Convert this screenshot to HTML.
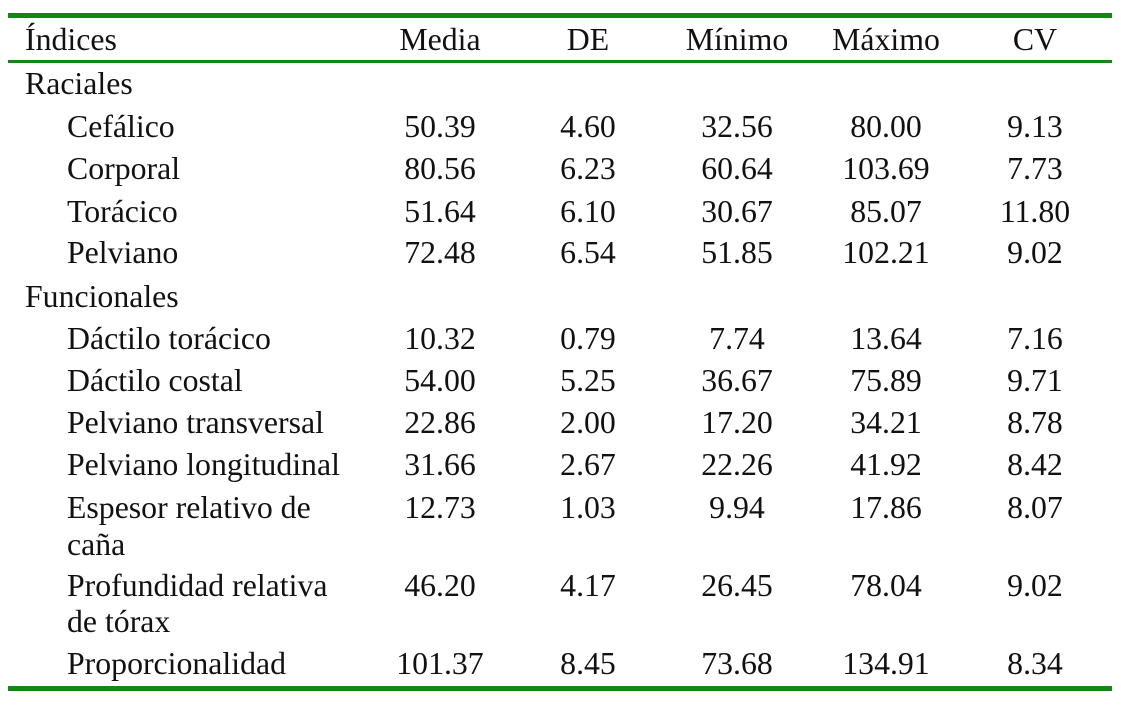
<!DOCTYPE html>
<html><head><meta charset="utf-8"><style>
body{margin:0;width:1121px;height:705px;background:#fff;position:relative;overflow:hidden;font-family:"Liberation Serif",serif;font-size:31.8px;color:#111}
.t{position:absolute;height:40px;line-height:40px;white-space:nowrap}
.c{width:180px;text-align:center}
.ln{position:absolute;left:8px;width:1104px;background:#138613}
</style></head><body>
<div class="ln" style="top:13px;height:5px"></div>
<div class="ln" style="top:60px;height:3px"></div>
<div class="ln" style="top:686px;height:5px"></div>
<div id="tbl"></div>
<script>
const cols=[440,588,737,886,1035];
const header=["Media","DE","Mínimo","Máximo","CV"];
const rows=[
["Índices",25,40,null],
["Raciales",25,84,null],
["Cefálico",67,127,["50.39","4.60","32.56","80.00","9.13"]],
["Corporal",67,169,["80.56","6.23","60.64","103.69","7.73"]],
["Torácico",67,212,["51.64","6.10","30.67","85.07","11.80"]],
["Pelviano",67,253,["72.48","6.54","51.85","102.21","9.02"]],
["Funcionales",25,297,null],
["Dáctilo torácico",67,339,["10.32","0.79","7.74","13.64","7.16"]],
["Dáctilo costal",67,381,["54.00","5.25","36.67","75.89","9.71"]],
["Pelviano transversal",67,423,["22.86","2.00","17.20","34.21","8.78"]],
["Pelviano longitudinal",67,465,["31.66","2.67","22.26","41.92","8.42"]],
["Espesor relativo de",67,508,["12.73","1.03","9.94","17.86","8.07"]],
["caña",67,545,null],
["Profundidad relativa",67,586,["46.20","4.17","26.45","78.04","9.02"]],
["de tórax",67,622,null],
["Proporcionalidad",67,664,["101.37","8.45","73.68","134.91","8.34"]]
];
const host=document.getElementById('tbl');
function add(txt,x,y,cls){
 const d=document.createElement('div');
 d.className='t'+(cls?' '+cls:'');
 d.textContent=txt;
 d.style.left=(cls?x-90:x)+'px';
 d.style.top=(y-20)+'px';
 
 
 host.appendChild(d);
}
header.forEach((h,i)=>add(h,cols[i],40,'c'));
rows.forEach(r=>{add(r[0],r[1],r[2]);if(r[3])r[3].forEach((v,i)=>add(v,cols[i],r[2],'c'));});
</script>
</body></html>
